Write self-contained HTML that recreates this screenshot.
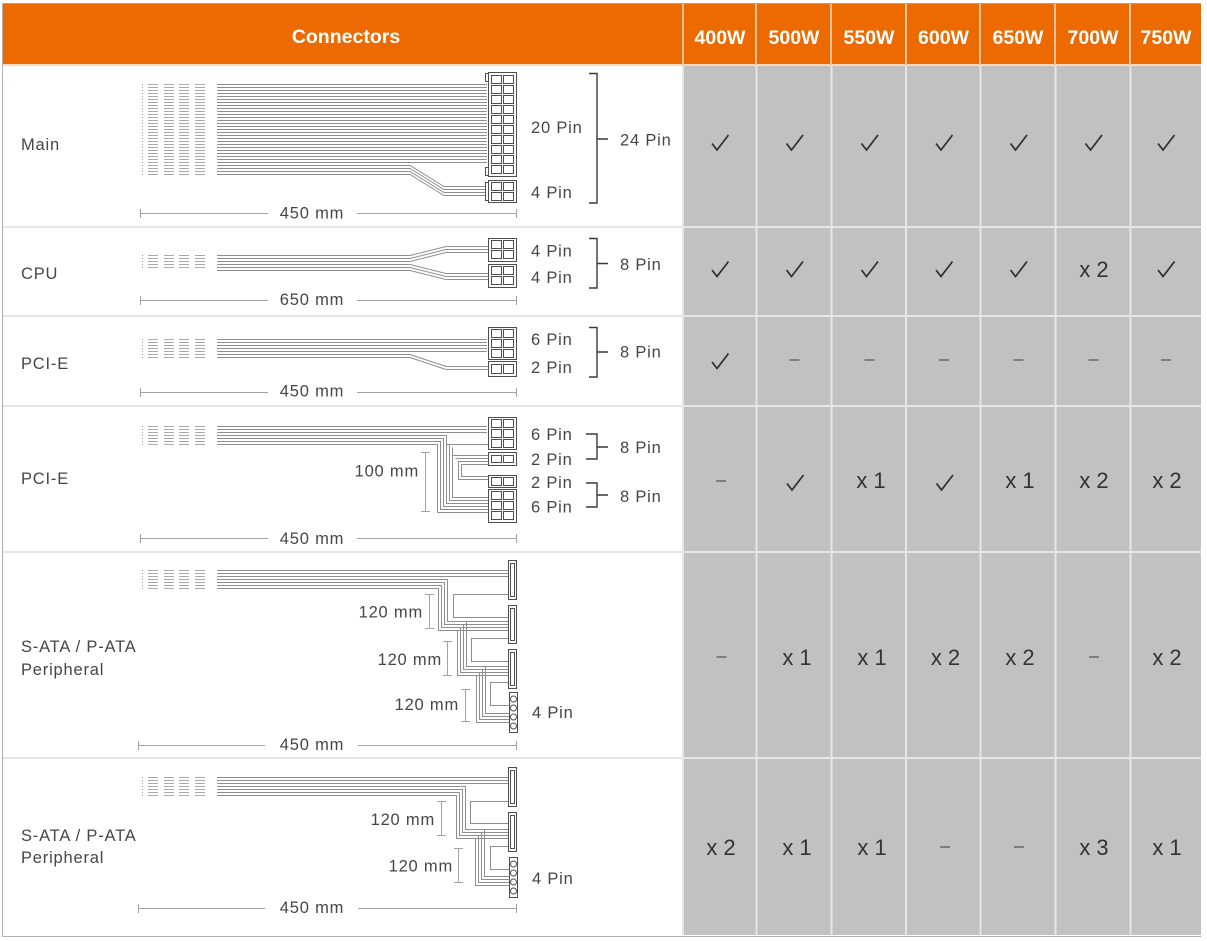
<!DOCTYPE html>
<html><head><meta charset="utf-8"><style>
html,body{margin:0;padding:0;background:#fff;}
svg{display:block;}
text{font-family:"Liberation Sans",Arial,sans-serif;}
.l{font-size:16.5px;fill:#464646;letter-spacing:0.8px;}
.v{font-size:22px;fill:#333;text-anchor:middle;}
.h{font-size:19.5px;font-weight:bold;fill:#fff;text-anchor:middle;}
.w{fill:none;stroke:#8e8e8e;stroke-width:1;}
.c{fill:#fff;stroke:#4e4e4e;stroke-width:1;}
.d{fill:none;stroke:#a3a3a3;stroke-width:1;}
.b{fill:none;stroke:#3a3a3a;stroke-width:1.4;}
.e{text-anchor:end;}
.m{text-anchor:middle;}
</style></head><body>
<svg width="1207" height="941" viewBox="0 0 1207 941" xmlns="http://www.w3.org/2000/svg">
<defs>
<pattern id="hw" width="4" height="3" patternUnits="userSpaceOnUse"><rect width="4" height="1" fill="#8e8e8e"/></pattern>
<pattern id="hs" width="4" height="3" patternUnits="userSpaceOnUse"><rect width="4" height="1" fill="#a8a8a8"/></pattern>
<g id="ck"><path d="M-8 1L-3 7.5L8.5 -7.5" fill="none" stroke="#2e2e2e" stroke-width="1.7"/></g>
<g id="ds"><path d="M-5 0H5" stroke="#6e6e6e" stroke-width="1.6"/></g>
</defs>

<!-- backgrounds -->
<rect x="3" y="4" width="1198" height="61" fill="#ec6a00"/>
<rect x="3" y="64" width="1198" height="2" fill="#f9d9bd"/>
<rect x="684" y="66" width="517" height="869" fill="#c1c1c1"/>
<!-- header separators -->
<g fill="#f3c29a">
<rect x="682" y="4" width="2" height="61"/>
<rect x="755" y="4" width="2" height="61"/>
<rect x="830" y="4" width="2" height="61"/>
<rect x="905" y="4" width="2" height="61"/>
<rect x="979" y="4" width="2" height="61"/>
<rect x="1054" y="4" width="2" height="61"/>
<rect x="1129" y="4" width="2" height="61"/>
</g>
<!-- grid separators -->
<g fill="#e6e6e6">
<rect x="682" y="66" width="2" height="869"/>
<rect x="755.5" y="66" width="2" height="869"/>
<rect x="830.5" y="66" width="2" height="869"/>
<rect x="905" y="66" width="2" height="869"/>
<rect x="979.5" y="66" width="2" height="869"/>
<rect x="1054.5" y="66" width="2" height="869"/>
<rect x="1129.5" y="66" width="2" height="869"/>
<rect x="3" y="226" width="1198" height="2"/>
<rect x="3" y="315" width="1198" height="2"/>
<rect x="3" y="405" width="1198" height="2"/>
<rect x="3" y="551" width="1198" height="2"/>
<rect x="3" y="757" width="1198" height="2"/>
</g>
<!-- borders -->
<rect x="2" y="3" width="1199" height="1" fill="#b0a08f"/>
<rect x="2" y="3" width="1" height="934" fill="#b0b0b0"/>
<rect x="2" y="936" width="1199" height="1" fill="#b0b0b0"/>

<!-- header text -->
<text class="h" x="346" y="43">Connectors</text>
<text class="h" x="720" y="44">400W</text>
<text class="h" x="794" y="44">500W</text>
<text class="h" x="869" y="44">550W</text>
<text class="h" x="943.5" y="44">600W</text>
<text class="h" x="1018" y="44">650W</text>
<text class="h" x="1093" y="44">700W</text>
<text class="h" x="1166" y="44">750W</text>

<!-- row labels -->
<text class="l" x="21" y="150">Main</text>
<text class="l" x="21" y="279">CPU</text>
<text class="l" x="21" y="369">PCI-E</text>
<text class="l" x="21" y="484">PCI-E</text>
<text class="l" x="21" y="652">S-ATA / P-ATA</text>
<text class="l" x="21" y="675">Peripheral</text>
<text class="l" x="21" y="841">S-ATA / P-ATA</text>
<text class="l" x="21" y="863">Peripheral</text>

<!-- ========== ROW 1 MAIN ========== -->
<line x1="142.5" y1="84" x2="142.5" y2="175" stroke="#9a9a9a" stroke-dasharray="1 2"/>
<rect x="148" y="84" width="10" height="91" fill="url(#hs)"/>
<rect x="164" y="84" width="10" height="91" fill="url(#hs)"/>
<rect x="179" y="84" width="10" height="91" fill="url(#hs)"/>
<rect x="195" y="84" width="10" height="91" fill="url(#hs)"/>
<rect x="217" y="84" width="270" height="79" fill="url(#hw)"/>
<path class="w" d="M217 165.5H410L444 186.5H488M217 168.5H410L444 189.5H488M217 171.5H410L444 192.5H488M217 174.5H410L444 195.5H488"/>
<rect class="c" x="485.5" y="73.5" width="4" height="8"/>
<rect class="c" x="485.5" y="167.5" width="4" height="8"/>
<rect class="c" x="488.5" y="72.5" width="28" height="104"/>
<g class="c">
<rect x="491.5" y="75.5" width="10" height="8"/><rect x="503.5" y="75.5" width="10" height="8"/>
<rect x="491.5" y="85.5" width="10" height="8"/><rect x="503.5" y="85.5" width="10" height="8"/>
<rect x="491.5" y="95.5" width="10" height="8"/><rect x="503.5" y="95.5" width="10" height="8"/>
<rect x="491.5" y="105.5" width="10" height="8"/><rect x="503.5" y="105.5" width="10" height="8"/>
<rect x="491.5" y="115.5" width="10" height="8"/><rect x="503.5" y="115.5" width="10" height="8"/>
<rect x="491.5" y="125.5" width="10" height="8"/><rect x="503.5" y="125.5" width="10" height="8"/>
<rect x="491.5" y="135.5" width="10" height="8"/><rect x="503.5" y="135.5" width="10" height="8"/>
<rect x="491.5" y="145.5" width="10" height="8"/><rect x="503.5" y="145.5" width="10" height="8"/>
<rect x="491.5" y="155.5" width="10" height="8"/><rect x="503.5" y="155.5" width="10" height="8"/>
<rect x="491.5" y="165.5" width="10" height="8"/><rect x="503.5" y="165.5" width="10" height="8"/>
</g>
<rect class="c" x="485.5" y="182.5" width="4" height="18"/>
<rect class="c" x="488.5" y="180.5" width="28" height="22"/>
<g class="c">
<rect x="491.5" y="182.5" width="10" height="8"/><rect x="503.5" y="182.5" width="10" height="8"/>
<rect x="491.5" y="192.5" width="10" height="8"/><rect x="503.5" y="192.5" width="10" height="8"/>
</g>
<text class="l" x="531" y="133">20 Pin</text>
<text class="l" x="531" y="198">4 Pin</text>
<path class="b" d="M589 73.5H597V203H589M597 139H608"/>
<text class="l" x="620" y="145.5">24 Pin</text>
<path class="d" d="M140 213.5H268M357 213.5H517M140.5 209V218M516.5 209V218"/>
<text class="l m" x="312" y="218.5">450 mm</text>

<!-- ========== ROW 2 CPU ========== -->
<line x1="142.5" y1="255" x2="142.5" y2="270" stroke="#9a9a9a" stroke-dasharray="1 2"/>
<rect x="148" y="255" width="10" height="14" fill="url(#hs)"/>
<rect x="164" y="255" width="10" height="14" fill="url(#hs)"/>
<rect x="179" y="255" width="10" height="14" fill="url(#hs)"/>
<rect x="195" y="255" width="10" height="14" fill="url(#hs)"/>
<path class="w" d="M217 255.5H410L446 246.5H488M217 258.5H410L446 249.5H488M217 261.5H410L446 252.5H488M217 264.5H410L446 273.5H488M217 267.5H410L446 276.5H488M217 270.5H410L446 279.5H488"/>
<rect class="c" x="488.5" y="238.5" width="28" height="23"/>
<rect class="c" x="488.5" y="264.5" width="28" height="23"/>
<g class="c">
<rect x="491.5" y="240.5" width="10" height="8"/><rect x="503.5" y="240.5" width="10" height="8"/>
<rect x="491.5" y="250.5" width="10" height="8"/><rect x="503.5" y="250.5" width="10" height="8"/>
<rect x="491.5" y="266.5" width="10" height="8"/><rect x="503.5" y="266.5" width="10" height="8"/>
<rect x="491.5" y="276.5" width="10" height="8"/><rect x="503.5" y="276.5" width="10" height="8"/>
</g>
<text class="l" x="531" y="256.5">4 Pin</text>
<text class="l" x="531" y="283">4 Pin</text>
<path class="b" d="M589 238.5H597V288H589M597 263.5H608"/>
<text class="l" x="620" y="270">8 Pin</text>
<path class="d" d="M140 300.5H268M357 300.5H517M140.5 296V305M516.5 296V305"/>
<text class="l m" x="312" y="305">650 mm</text>

<!-- ========== ROW 3 PCI-E ========== -->
<line x1="142.5" y1="339" x2="142.5" y2="360" stroke="#9a9a9a" stroke-dasharray="1 2"/>
<rect x="148" y="339" width="10" height="20" fill="url(#hs)"/>
<rect x="164" y="339" width="10" height="20" fill="url(#hs)"/>
<rect x="179" y="339" width="10" height="20" fill="url(#hs)"/>
<rect x="195" y="339" width="10" height="20" fill="url(#hs)"/>
<rect x="217" y="339" width="270" height="13" fill="url(#hw)"/>
<path class="w" d="M217 354.5H410L446 366.5H488M217 357.5H410L446 369.5H488"/>
<rect class="c" x="488.5" y="327.5" width="28" height="32"/>
<rect class="c" x="488.5" y="361.5" width="28" height="15"/>
<g class="c">
<rect x="491.5" y="329.5" width="10" height="8"/><rect x="503.5" y="329.5" width="10" height="8"/>
<rect x="491.5" y="339.5" width="10" height="8"/><rect x="503.5" y="339.5" width="10" height="8"/>
<rect x="491.5" y="349.5" width="10" height="8"/><rect x="503.5" y="349.5" width="10" height="8"/>
<rect x="491.5" y="364.5" width="10" height="9"/><rect x="503.5" y="364.5" width="10" height="9"/>
</g>
<text class="l" x="531" y="345">6 Pin</text>
<text class="l" x="531" y="373">2 Pin</text>
<path class="b" d="M589 327.5H597V377H589M597 352H608"/>
<text class="l" x="620" y="357.5">8 Pin</text>
<path class="d" d="M140 392.5H268M357 392.5H517M140.5 388V397M516.5 388V397"/>
<text class="l m" x="312" y="396.5">450 mm</text>

<!-- ========== ROW 4 PCI-E (2x) ========== -->
<line x1="142.5" y1="426" x2="142.5" y2="447" stroke="#9a9a9a" stroke-dasharray="1 2"/>
<rect x="148" y="426" width="10" height="20" fill="url(#hs)"/>
<rect x="164" y="426" width="10" height="20" fill="url(#hs)"/>
<rect x="179" y="426" width="10" height="20" fill="url(#hs)"/>
<rect x="195" y="426" width="10" height="20" fill="url(#hs)"/>
<rect x="217" y="426" width="270" height="7" fill="url(#hw)"/>
<path class="w" d="M217 435.5H446.5V503.5H488M217 438.5H443.5V506.5H488M217 441.5H440.5V509.5H488M217 444.5H437.5V512.5H488M446.5 444.5H488M449.5 444.5V500.5H488M452.5 447.5V497.5H488M452.5 455.5H488M455.5 458.5H488M488 461.5H458.5V479.5H488M488 464.5H461.5V476.5H488"/>
<rect class="c" x="488.5" y="417.5" width="28" height="32"/>
<rect class="c" x="488.5" y="452.5" width="28" height="13"/>
<rect class="c" x="488.5" y="475.5" width="28" height="12"/>
<rect class="c" x="488.5" y="489.5" width="28" height="33"/>
<g class="c">
<rect x="491.5" y="419.5" width="10" height="8"/><rect x="503.5" y="419.5" width="10" height="8"/>
<rect x="491.5" y="429.5" width="10" height="8"/><rect x="503.5" y="429.5" width="10" height="8"/>
<rect x="491.5" y="439.5" width="10" height="8"/><rect x="503.5" y="439.5" width="10" height="8"/>
<rect x="491.5" y="455.5" width="10" height="7"/><rect x="503.5" y="455.5" width="10" height="7"/>
<rect x="491.5" y="477.5" width="10" height="8"/><rect x="503.5" y="477.5" width="10" height="8"/>
<rect x="491.5" y="491.5" width="10" height="8"/><rect x="503.5" y="491.5" width="10" height="8"/>
<rect x="491.5" y="501.5" width="10" height="8"/><rect x="503.5" y="501.5" width="10" height="8"/>
<rect x="491.5" y="511.5" width="10" height="8"/><rect x="503.5" y="511.5" width="10" height="8"/>
</g>
<path class="d" d="M425.5 452V512M421 452.5H430M421 511.5H430"/>
<text class="l e" x="419" y="476.5">100 mm</text>
<text class="l" x="531" y="440">6 Pin</text>
<text class="l" x="531" y="465">2 Pin</text>
<text class="l" x="531" y="488">2 Pin</text>
<text class="l" x="531" y="512.5">6 Pin</text>
<path class="b" d="M586 434H597V459H586M597 447H608M586 483H597V507H586M597 495H608"/>
<text class="l" x="620" y="453">8 Pin</text>
<text class="l" x="620" y="502">8 Pin</text>
<path class="d" d="M140 538.5H268M357 538.5H517M140.5 534V543M516.5 534V543"/>
<text class="l m" x="312" y="544">450 mm</text>

<!-- ========== ROW 5 SATA (3 branch) ========== -->
<line x1="142.5" y1="570" x2="142.5" y2="591" stroke="#9a9a9a" stroke-dasharray="1 2"/>
<rect x="148" y="570" width="10" height="20" fill="url(#hs)"/>
<rect x="164" y="570" width="10" height="20" fill="url(#hs)"/>
<rect x="179" y="570" width="10" height="20" fill="url(#hs)"/>
<rect x="195" y="570" width="10" height="20" fill="url(#hs)"/>
<rect x="217" y="570" width="291" height="7" fill="url(#hw)"/>
<path class="w" d="M217 579.5H447.5V621.5H508M217 582.5H444.5V624.5H508M217 585.5H441.5V627.5H508M217 588.5H438.5V630.5H508M508 594.5H453.5V617.5H508M457.5 630.5V675.5H508M460.5 627.5V672.5H508M463.5 624.5V669.5H508M466.5 621.5V666.5H508M508 638.5H471.5V661.5H508M476.5 675.5V722.5H509M479.5 672.5V719.5H509M482.5 669.5V716.5H509M485.5 666.5V713.5H509M508 682.5H490.5V705.5H509"/>
<g class="c">
<rect x="508.5" y="560.5" width="8" height="39"/><rect x="510.5" y="563.5" width="4" height="33"/>
<rect x="508.5" y="605.5" width="8" height="38"/><rect x="510.5" y="608.5" width="4" height="32"/>
<rect x="508.5" y="649.5" width="8" height="39"/><rect x="510.5" y="652.5" width="4" height="33"/>
<rect x="509.5" y="692.5" width="8" height="40"/>
<circle cx="513.5" cy="699" r="3"/><circle cx="513.5" cy="708" r="3"/><circle cx="513.5" cy="717" r="3"/><circle cx="513.5" cy="726" r="3"/>
</g>
<path class="d" d="M429.5 594V629M425 594.5H434M425 628.5H434M447.5 641V676M443 641.5H452M443 675.5H452M465.5 689V722M461 689.5H470M461 721.5H470"/>
<text class="l e" x="423" y="617.5">120 mm</text>
<text class="l e" x="442" y="665">120 mm</text>
<text class="l e" x="459" y="710">120 mm</text>
<text class="l" x="532" y="718">4 Pin</text>
<path class="d" d="M138 745.5H265M358 745.5H517M138.5 741V750M516.5 741V750"/>
<text class="l m" x="312" y="750">450 mm</text>

<!-- ========== ROW 6 SATA (2 branch) ========== -->
<line x1="142.5" y1="777" x2="142.5" y2="798" stroke="#9a9a9a" stroke-dasharray="1 2"/>
<rect x="148" y="777" width="10" height="20" fill="url(#hs)"/>
<rect x="164" y="777" width="10" height="20" fill="url(#hs)"/>
<rect x="179" y="777" width="10" height="20" fill="url(#hs)"/>
<rect x="195" y="777" width="10" height="20" fill="url(#hs)"/>
<rect x="217" y="777" width="291" height="7" fill="url(#hw)"/>
<path class="w" d="M217 786.5H465.5V829.5H508M217 789.5H462.5V832.5H508M217 792.5H459.5V835.5H508M217 795.5H456.5V838.5H508M508 801.5H470.5V823.5H508M475.5 838.5V885.5H509M478.5 835.5V882.5H509M481.5 832.5V879.5H509M484.5 829.5V876.5H509M508 846.5H490.5V869.5H509"/>
<g class="c">
<rect x="508.5" y="767.5" width="8" height="39"/><rect x="510.5" y="770.5" width="4" height="33"/>
<rect x="508.5" y="812.5" width="8" height="39"/><rect x="510.5" y="815.5" width="4" height="33"/>
<rect x="509.5" y="857.5" width="8" height="40"/>
<circle cx="513.5" cy="864" r="3"/><circle cx="513.5" cy="873" r="3"/><circle cx="513.5" cy="882" r="3"/><circle cx="513.5" cy="891" r="3"/>
</g>
<path class="d" d="M441.5 801V836M437 801.5H446M437 835.5H446M458.5 848V883M454 848.5H463M454 882.5H463"/>
<text class="l e" x="435" y="825">120 mm</text>
<text class="l e" x="453" y="871.5">120 mm</text>
<text class="l" x="532" y="884">4 Pin</text>
<path class="d" d="M138 908.5H265M358 908.5H517M138.5 904V913M516.5 904V913"/>
<text class="l m" x="312" y="913">450 mm</text>

<!-- ========== VALUES ========== -->
<!-- row 1 -->
<use href="#ck" x="720" y="142.5"/><use href="#ck" x="794.5" y="142.5"/><use href="#ck" x="869.5" y="142.5"/><use href="#ck" x="944" y="142.5"/><use href="#ck" x="1018.5" y="142.5"/><use href="#ck" x="1093.5" y="142.5"/><use href="#ck" x="1166" y="142.5"/>
<!-- row 2 -->
<use href="#ck" x="720" y="269"/><use href="#ck" x="794.5" y="269"/><use href="#ck" x="869.5" y="269"/><use href="#ck" x="944" y="269"/><use href="#ck" x="1018.5" y="269"/>
<text class="v" x="1094" y="277">x 2</text>
<use href="#ck" x="1166" y="269"/>
<!-- row 3 -->
<use href="#ck" x="720" y="361"/>
<use href="#ds" x="794.5" y="360"/><use href="#ds" x="869.5" y="360"/><use href="#ds" x="944" y="360"/><use href="#ds" x="1018.5" y="360"/><use href="#ds" x="1093.5" y="360"/><use href="#ds" x="1166" y="360"/>
<!-- row 4 -->
<use href="#ds" x="721" y="481"/>
<use href="#ck" x="795" y="482.5"/>
<text class="v" x="871" y="488">x 1</text>
<use href="#ck" x="944.5" y="482.5"/>
<text class="v" x="1020" y="488">x 1</text>
<text class="v" x="1094" y="488">x 2</text>
<text class="v" x="1167" y="488">x 2</text>
<!-- row 5 -->
<use href="#ds" x="721.5" y="657"/>
<text class="v" x="797" y="665">x 1</text>
<text class="v" x="872" y="665">x 1</text>
<text class="v" x="945.5" y="665">x 2</text>
<text class="v" x="1020" y="665">x 2</text>
<use href="#ds" x="1094" y="657"/>
<text class="v" x="1167" y="665">x 2</text>
<!-- row 6 -->
<text class="v" x="721" y="855">x 2</text>
<text class="v" x="797" y="855">x 1</text>
<text class="v" x="872" y="855">x 1</text>
<use href="#ds" x="945" y="847"/>
<use href="#ds" x="1019" y="847"/>
<text class="v" x="1094" y="855">x 3</text>
<text class="v" x="1167" y="855">x 1</text>
</svg>
</body></html>
